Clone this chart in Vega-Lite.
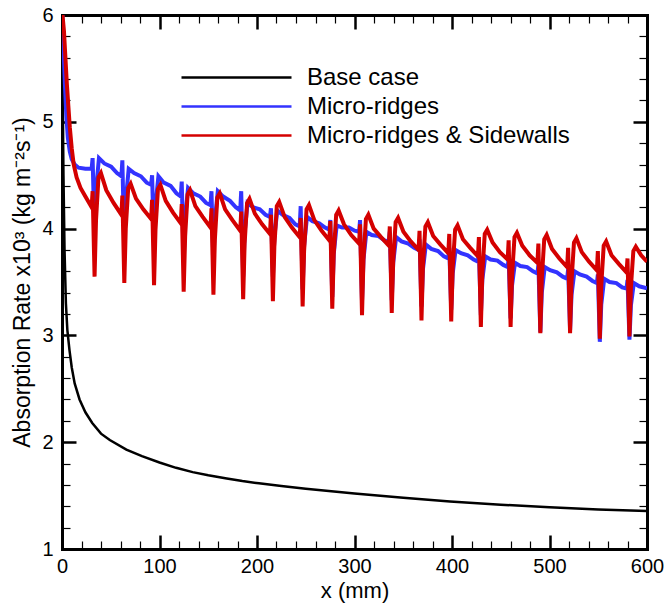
{
"$schema":"https://vega.github.io/schema/vega-lite/v6.json",
"width":585,"height":534,
"autosize":"none",
"padding":{"left":62,"top":15,"right":18,"bottom":57},
"config":{"view":{"stroke":null},"font":"Liberation Sans"},
"datasets":{
"base":[{"x":0.3,"y":6.0},{"x":0.8,"y":5.2},{"x":1.5,"y":4.5},{"x":2.6,"y":3.8},{"x":4,"y":3.3},{"x":5.5,"y":3.05},{"x":7.7,"y":2.86},{"x":10,"y":2.7},{"x":13,"y":2.55},{"x":18,"y":2.4},{"x":24,"y":2.28},{"x":31,"y":2.18},{"x":40,"y":2.08},{"x":49,"y":2.02},{"x":66,"y":1.93},{"x":82,"y":1.87},{"x":100,"y":1.81},{"x":117,"y":1.76},{"x":134,"y":1.72},{"x":150,"y":1.69},{"x":169,"y":1.66},{"x":185,"y":1.636},{"x":202,"y":1.615},{"x":225,"y":1.59},{"x":250,"y":1.565},{"x":300,"y":1.52},{"x":350,"y":1.48},{"x":398,"y":1.445},{"x":450,"y":1.415},{"x":500,"y":1.39},{"x":550,"y":1.37},{"x":600,"y":1.356}],
"ridges":[{"x":0.3,"y":6.0},{"x":1.5,"y":5.7},{"x":3,"y":5.35},{"x":4.5,"y":5.05},{"x":6,"y":4.85},{"x":8,"y":4.72},{"x":10,"y":4.65},{"x":13,"y":4.6},{"x":17,"y":4.57},{"x":24,"y":4.56},
{"x":30.4,"y":4.56},{"x":31.4,"y":4.66},{"x":33.4,"y":3.92},{"x":34.9,"y":4.36},{"x":37.9,"y":4.66},{"x":43.4,"y":4.61},{"x":50.4,"y":4.58},{"x":56.4,"y":4.52},
{"x":60.9,"y":4.49},{"x":61.9,"y":4.64},{"x":63.9,"y":3.82},{"x":65.4,"y":4.26},{"x":68.4,"y":4.56},{"x":73.9,"y":4.52},{"x":80.9,"y":4.49},{"x":86.9,"y":4.43},
{"x":91.4,"y":4.41},{"x":92.4,"y":4.5},{"x":94.4,"y":3.82},{"x":95.9,"y":4.22},{"x":98.9,"y":4.49},{"x":104.4,"y":4.43},{"x":111.4,"y":4.4},{"x":117.4,"y":4.33},
{"x":121.8,"y":4.3},{"x":122.8,"y":4.44},{"x":124.8,"y":3.69},{"x":126.3,"y":4.1},{"x":129.3,"y":4.38},{"x":134.8,"y":4.33},{"x":141.8,"y":4.3},{"x":147.8,"y":4.24},
{"x":152.3,"y":4.22},{"x":153.3,"y":4.35},{"x":155.3,"y":3.67},{"x":156.8,"y":4.08},{"x":159.8,"y":4.35},{"x":165.3,"y":4.3},{"x":172.3,"y":4.26},{"x":178.3,"y":4.2},
{"x":182.8,"y":4.17},{"x":183.8,"y":4.35},{"x":185.8,"y":3.55},{"x":187.3,"y":3.96},{"x":190.3,"y":4.24},{"x":195.8,"y":4.2},{"x":202.8,"y":4.18},{"x":208.8,"y":4.13},
{"x":213.3,"y":4.11},{"x":214.3,"y":4.19},{"x":216.3,"y":3.55},{"x":217.8,"y":3.92},{"x":220.8,"y":4.17},{"x":226.3,"y":4.13},{"x":233.3,"y":4.1},{"x":239.3,"y":4.04},
{"x":243.8,"y":4.02},{"x":244.8,"y":4.21},{"x":246.8,"y":3.43},{"x":248.3,"y":3.84},{"x":251.3,"y":4.11},{"x":256.8,"y":4.07},{"x":263.8,"y":4.05},{"x":269.8,"y":4.01},
{"x":274.2,"y":3.99},{"x":275.2,"y":4.08},{"x":277.2,"y":3.36},{"x":278.7,"y":3.76},{"x":281.7,"y":4.03},{"x":287.2,"y":4.01},{"x":294.2,"y":4.01},{"x":300.2,"y":3.98},
{"x":304.7,"y":3.97},{"x":305.7,"y":4.08},{"x":307.7,"y":3.32},{"x":309.2,"y":3.71},{"x":312.2,"y":3.97},{"x":317.7,"y":3.94},{"x":324.7,"y":3.93},{"x":330.7,"y":3.89},
{"x":335.2,"y":3.88},{"x":336.2,"y":3.97},{"x":338.2,"y":3.33},{"x":339.7,"y":3.68},{"x":342.7,"y":3.92},{"x":348.2,"y":3.88},{"x":355.2,"y":3.86},{"x":361.2,"y":3.82},
{"x":365.7,"y":3.8},{"x":366.7,"y":3.9},{"x":368.7,"y":3.27},{"x":370.2,"y":3.62},{"x":373.2,"y":3.85},{"x":378.7,"y":3.81},{"x":385.7,"y":3.79},{"x":391.7,"y":3.74},
{"x":396.2,"y":3.72},{"x":397.2,"y":3.82},{"x":399.2,"y":3.24},{"x":400.7,"y":3.58},{"x":403.7,"y":3.8},{"x":409.2,"y":3.77},{"x":416.2,"y":3.75},{"x":422.2,"y":3.71},
{"x":426.6,"y":3.69},{"x":427.6,"y":3.78},{"x":429.6,"y":3.19},{"x":431.1,"y":3.52},{"x":434.1,"y":3.74},{"x":439.6,"y":3.71},{"x":446.6,"y":3.7},{"x":452.6,"y":3.66},
{"x":457.1,"y":3.64},{"x":458.1,"y":3.72},{"x":460.1,"y":3.16},{"x":461.6,"y":3.47},{"x":464.6,"y":3.68},{"x":470.1,"y":3.65},{"x":477.1,"y":3.64},{"x":483.1,"y":3.6},
{"x":487.6,"y":3.58},{"x":488.6,"y":3.66},{"x":490.6,"y":3.03},{"x":492.1,"y":3.4},{"x":495.1,"y":3.64},{"x":500.6,"y":3.61},{"x":507.6,"y":3.59},{"x":513.6,"y":3.55},
{"x":518.1,"y":3.53},{"x":519.1,"y":3.62},{"x":521.1,"y":3.05},{"x":522.6,"y":3.38},{"x":525.6,"y":3.6},{"x":531.1,"y":3.57},{"x":538.1,"y":3.55},{"x":544.1,"y":3.51},
{"x":548.6,"y":3.49},{"x":549.6,"y":3.57},{"x":551.6,"y":2.94},{"x":553.1,"y":3.29},{"x":556.1,"y":3.53},{"x":561.6,"y":3.5},{"x":568.6,"y":3.49},{"x":574.6,"y":3.45},
{"x":579.0,"y":3.44},{"x":580.0,"y":3.52},{"x":582.0,"y":2.96},{"x":583.5,"y":3.28},{"x":586.5,"y":3.49},{"x":592,"y":3.46},{"x":600,"y":3.44}],
"walls":[{"x":0.5,"y":6.0},{"x":2,"y":5.85},{"x":3.5,"y":5.6},{"x":5,"y":5.35},{"x":6.5,"y":5.15},{"x":8,"y":4.95},{"x":10,"y":4.75},{"x":12,"y":4.6},{"x":15,"y":4.48},{"x":19,"y":4.38},{"x":24,"y":4.3},
{"x":30.4,"y":4.2},{"x":31.4,"y":4.35},{"x":33.4,"y":3.55},{"x":34.9,"y":4.08},{"x":37.4,"y":4.48},{"x":39.9,"y":4.52},{"x":45.4,"y":4.36},{"x":52.9,"y":4.24},
{"x":60.9,"y":4.13},{"x":61.9,"y":4.31},{"x":63.9,"y":3.49},{"x":65.4,"y":4.0},{"x":67.9,"y":4.38},{"x":70.4,"y":4.42},{"x":75.9,"y":4.28},{"x":83.4,"y":4.18},
{"x":91.4,"y":4.09},{"x":92.4,"y":4.27},{"x":94.4,"y":3.47},{"x":95.9,"y":3.99},{"x":98.4,"y":4.37},{"x":100.9,"y":4.41},{"x":106.4,"y":4.26},{"x":113.9,"y":4.15},
{"x":121.8,"y":4.05},{"x":122.8,"y":4.23},{"x":124.8,"y":3.41},{"x":126.3,"y":3.93},{"x":128.8,"y":4.32},{"x":131.3,"y":4.36},{"x":136.8,"y":4.21},{"x":144.3,"y":4.11},
{"x":152.3,"y":4.01},{"x":153.3,"y":4.19},{"x":155.3,"y":3.38},{"x":156.8,"y":3.9},{"x":159.3,"y":4.29},{"x":161.8,"y":4.33},{"x":167.3,"y":4.18},{"x":174.8,"y":4.08},
{"x":182.8,"y":3.98},{"x":183.8,"y":4.16},{"x":185.8,"y":3.34},{"x":187.3,"y":3.86},{"x":189.8,"y":4.24},{"x":192.3,"y":4.28},{"x":197.8,"y":4.14},{"x":205.3,"y":4.04},
{"x":213.3,"y":3.95},{"x":214.3,"y":4.13},{"x":216.3,"y":3.32},{"x":217.8,"y":3.83},{"x":220.3,"y":4.21},{"x":222.8,"y":4.25},{"x":228.3,"y":4.11},{"x":235.8,"y":4.01},
{"x":243.8,"y":3.92},{"x":244.8,"y":4.1},{"x":246.8,"y":3.27},{"x":248.3,"y":3.79},{"x":250.8,"y":4.18},{"x":253.3,"y":4.22},{"x":258.8,"y":4.08},{"x":266.3,"y":3.98},
{"x":274.2,"y":3.89},{"x":275.2,"y":4.07},{"x":277.2,"y":3.25},{"x":278.7,"y":3.76},{"x":281.2,"y":4.13},{"x":283.7,"y":4.17},{"x":289.2,"y":4.04},{"x":296.7,"y":3.94},
{"x":304.7,"y":3.86},{"x":305.7,"y":4.04},{"x":307.7,"y":3.19},{"x":309.2,"y":3.71},{"x":311.7,"y":4.09},{"x":314.2,"y":4.13},{"x":319.7,"y":4.0},{"x":327.2,"y":3.92},
{"x":335.2,"y":3.84},{"x":336.2,"y":4.02},{"x":338.2,"y":3.21},{"x":339.7,"y":3.7},{"x":342.2,"y":4.06},{"x":344.7,"y":4.1},{"x":350.2,"y":3.97},{"x":357.7,"y":3.88},
{"x":365.7,"y":3.8},{"x":366.7,"y":3.98},{"x":368.7,"y":3.14},{"x":370.2,"y":3.65},{"x":372.7,"y":4.02},{"x":375.2,"y":4.06},{"x":380.7,"y":3.93},{"x":388.2,"y":3.85},
{"x":396.2,"y":3.77},{"x":397.2,"y":3.95},{"x":399.2,"y":3.13},{"x":400.7,"y":3.63},{"x":403.2,"y":3.99},{"x":405.7,"y":4.03},{"x":411.2,"y":3.9},{"x":418.7,"y":3.82},
{"x":426.6,"y":3.74},{"x":427.6,"y":3.92},{"x":429.6,"y":3.08},{"x":431.1,"y":3.58},{"x":433.6,"y":3.95},{"x":436.1,"y":3.99},{"x":441.6,"y":3.87},{"x":449.1,"y":3.78},
{"x":457.1,"y":3.71},{"x":458.1,"y":3.89},{"x":460.1,"y":3.08},{"x":461.6,"y":3.56},{"x":464.1,"y":3.92},{"x":466.6,"y":3.96},{"x":472.1,"y":3.84},{"x":479.6,"y":3.75},
{"x":487.6,"y":3.68},{"x":488.6,"y":3.86},{"x":490.6,"y":3.02},{"x":492.1,"y":3.53},{"x":494.6,"y":3.9},{"x":497.1,"y":3.94},{"x":502.6,"y":3.81},{"x":510.1,"y":3.72},
{"x":518.1,"y":3.64},{"x":519.1,"y":3.82},{"x":521.1,"y":3.02},{"x":522.6,"y":3.51},{"x":525.1,"y":3.87},{"x":527.6,"y":3.91},{"x":533.1,"y":3.78},{"x":540.6,"y":3.69},
{"x":548.6,"y":3.61},{"x":549.6,"y":3.79},{"x":551.6,"y":2.97},{"x":553.1,"y":3.47},{"x":555.6,"y":3.84},{"x":558.1,"y":3.88},{"x":563.6,"y":3.75},{"x":571.1,"y":3.67},
{"x":579.0,"y":3.59},{"x":580.0,"y":3.72},{"x":582.0,"y":2.99},{"x":583.5,"y":3.45},{"x":586.0,"y":3.79},{"x":588.5,"y":3.83},{"x":594,"y":3.75},{"x":600,"y":3.69}]
},
"layer":[
{"data":{"name":"base"},"mark":{"type":"line","strokeWidth":2.5,"clip":true},
 "encoding":{
  "x":{"field":"x","type":"quantitative","scale":{"domain":[0,600],"nice":false,"zero":false},
   "axis":{"orient":"bottom","values":[0,20,40,60,80,100,120,140,160,180,200,220,240,260,280,300,320,340,360,380,400,420,440,460,480,500,520,540,560,580,600],
    "labelExpr":"datum.value % 100 === 0 ? datum.label : ''","format":"d","grid":false,
    "tickSize":{"condition":{"test":"datum.value % 100 === 0","value":-14},"value":-8},
    "tickWidth":{"condition":{"test":"datum.value % 100 === 0","value":2.5},"value":1.2},
    "tickColor":"black","domainColor":"black","domainWidth":3,"domainCap":"square",
    "labelFontSize":20,"labelColor":"black","labelPadding":21,"labelFlush":false,"labelOverlap":false,
    "title":"x (mm)","titleFontSize":22,"titleFontWeight":"normal","titleColor":"black","titleY":31,"titleBaseline":"top"}},
  "y":{"field":"y","type":"quantitative","scale":{"domain":[1,6],"nice":false,"zero":false},
   "axis":{"orient":"left","values":[1,1.2,1.4,1.6,1.8,2,2.2,2.4,2.6,2.8,3,3.2,3.4,3.6,3.8,4,4.2,4.4,4.6,4.8,5,5.2,5.4,5.6,5.8,6],
    "labelExpr":"abs(datum.value - round(datum.value)) < 0.001 ? format(datum.value, 'd') : ''","grid":false,
    "tickSize":{"condition":{"test":"abs(datum.value - round(datum.value)) < 0.001","value":-14},"value":-8},
    "tickWidth":{"condition":{"test":"abs(datum.value - round(datum.value)) < 0.001","value":2.5},"value":1.2},
    "tickColor":"black","domainColor":"black","domainWidth":3,"domainCap":"square",
    "labelFontSize":20,"labelColor":"black","labelPadding":23,"labelFlush":false,"labelOverlap":false,
    "title":"Absorption Rate x10³  (kg m⁻²s⁻¹)","titleFontSize":23,"titleFontWeight":"normal","titleColor":"black","titlePadding":7}},
  "color":{"datum":"Base case","type":"nominal",
   "scale":{"domain":["Base case","Micro-ridges","Micro-ridges & Sidewalls"],"range":["#000000","#3333ff","#d40000"]},
   "legend":{"orient":"none","legendX":118,"legendY":48,"title":null,"symbolType":"stroke","symbolSize":12100,"symbolStrokeWidth":2.5,
    "labelFontSize":24,"labelFont":"Liberation Sans","labelColor":"black","labelOffset":14,"padding":0,"rowPadding":0,"clipHeight":29,"labelLimit":400}}}},
{"data":{"name":"ridges"},"mark":{"type":"line","strokeWidth":4,"clip":true},
 "encoding":{
  "x":{"field":"x","type":"quantitative","scale":{"domain":[0,600],"nice":false,"zero":false},
   "axis":{"orient":"top","values":[0,20,40,60,80,100,120,140,160,180,200,220,240,260,280,300,320,340,360,380,400,420,440,460,480,500,520,540,560,580,600],
    "labels":false,"title":null,"grid":false,
    "tickSize":{"condition":{"test":"datum.value % 100 === 0","value":-14},"value":-8},
    "tickWidth":{"condition":{"test":"datum.value % 100 === 0","value":2.5},"value":1.2},
    "tickColor":"black","domainColor":"black","domainWidth":3,"domainCap":"square"}},
  "y":{"field":"y","type":"quantitative","scale":{"domain":[1,6],"nice":false,"zero":false},
   "axis":{"orient":"right","values":[1,1.2,1.4,1.6,1.8,2,2.2,2.4,2.6,2.8,3,3.2,3.4,3.6,3.8,4,4.2,4.4,4.6,4.8,5,5.2,5.4,5.6,5.8,6],
    "labels":false,"title":null,"grid":false,
    "tickSize":{"condition":{"test":"abs(datum.value - round(datum.value)) < 0.001","value":-14},"value":-8},
    "tickWidth":{"condition":{"test":"abs(datum.value - round(datum.value)) < 0.001","value":2.5},"value":1.2},
    "tickColor":"black","domainColor":"black","domainWidth":3,"domainCap":"square"}},
  "color":{"datum":"Micro-ridges","type":"nominal"}}},
{"data":{"name":"walls"},"mark":{"type":"line","strokeWidth":4,"clip":true},
 "encoding":{
  "x":{"field":"x","type":"quantitative","scale":{"domain":[0,600],"nice":false,"zero":false},"axis":null},
  "y":{"field":"y","type":"quantitative","scale":{"domain":[1,6],"nice":false,"zero":false},"axis":null},
  "color":{"datum":"Micro-ridges & Sidewalls","type":"nominal"}}}
],
"resolve":{"axis":{"x":"independent","y":"independent"}}
}
